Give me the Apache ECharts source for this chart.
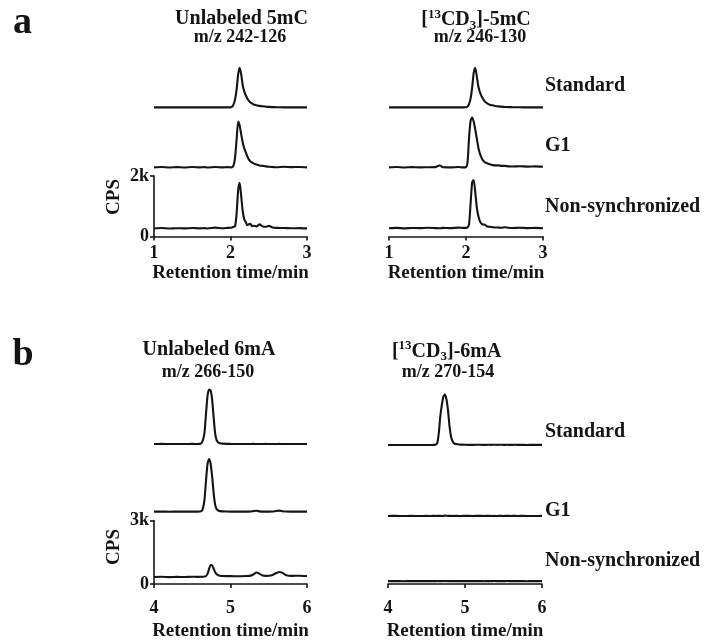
<!DOCTYPE html>
<html>
<head>
<meta charset="utf-8">
<script src="https://cdn.jsdelivr.net/npm/echarts/dist/echarts.min.js"></script>
<style>
  html, body { margin: 0; padding: 0; background: #fff; }
  #chart { width: 713px; height: 644px; }
</style>
</head>
<body>
<div id="chart"></div>
<script>
var FONT = '"Liberation Serif", "Times New Roman", serif';
var INK = '#141414';

// retention times (min) of the sampled points
var timeA = [1.00, 1.10, 1.20, 1.30, 1.40, 1.50, 1.60, 1.66, 1.70, 1.80, 1.90, 1.96,
  2.00, 2.02, 2.04, 2.06, 2.08, 2.10, 2.12, 2.14, 2.16, 2.18, 2.20, 2.22, 2.24, 2.26, 2.28, 2.30,
  2.34, 2.38, 2.42, 2.46, 2.50, 2.55, 2.60, 2.70, 2.80, 2.90, 3.00];
var timeB = [4.00, 4.10, 4.20, 4.30, 4.40, 4.50, 4.56, 4.60,
  4.62, 4.64, 4.66, 4.68, 4.70, 4.72, 4.74, 4.76, 4.78, 4.80, 4.82, 4.84, 4.86,
  4.90, 4.95, 5.00, 5.10, 5.20, 5.25, 5.30, 5.34, 5.38, 5.42, 5.46, 5.50,
  5.55, 5.60, 5.64, 5.68, 5.72, 5.80, 5.90, 6.00];

// panel a, CPS
var a5mcStandard = [20, 20, 22, 20, 21, 20, 22, 20, 21, 20, 22, 20,
  22, 38, 120, 285, 615, 1110, 1327, 1110, 745, 548, 416, 317, 235, 185, 152, 119,
  92, 70, 56, 46, 36, 30, 26, 22, 21, 20, 21];
var a5mcG1 = [30, 45, 25, 40, 28, 42, 30, 38, 26, 44, 30, 40,
  32, 35, 95, 360, 955, 1548, 1415, 1120, 855, 657, 525, 393, 294, 228, 195, 162,
  129, 96, 80, 63, 50, 42, 35, 52, 38, 45, 32];
var a5mcNonSync = [265, 280, 262, 275, 268, 282, 270, 278, 265, 292, 275, 285,
  290, 300, 320, 340, 765, 1525, 1775, 1330, 830, 570, 470, 370, 405, 420, 340, 355,
  335, 400, 335, 320, 350, 300, 285, 280, 272, 278, 268];
var aCd3Standard = [22, 20, 21, 20, 22, 20, 21, 20, 22, 20, 21, 22,
  24, 45, 140, 320, 680, 1160, 1330, 1060, 720, 530, 400, 305, 230, 180, 145, 118,
  88, 68, 54, 44, 36, 30, 26, 23, 21, 22, 20];
var aCd3G1 = [30, 42, 28, 38, 30, 35, 40, 95, 35, 30, 42, 30,
  40, 195, 1020, 1580, 1680, 1548, 1284, 987, 690, 492, 360, 261, 211, 178, 162, 145,
  112, 96, 96, 80, 80, 65, 60, 70, 55, 62, 50];
var aCd3NonSync = [275, 285, 270, 282, 276, 288, 278, 272, 284, 276, 292, 285,
  285, 300, 412, 1105, 1800, 1865, 1470, 970, 676, 511, 428, 395, 395, 362, 330, 320,
  310, 300, 295, 290, 305, 288, 282, 290, 278, 285, 275];

// panel b, CPS
var b6maStandard = [30, 32, 30, 31, 30, 32, 30, 35,
  70, 220, 555, 1460, 2315, 2600, 2555, 2125, 1270, 505, 195, 100, 65,
  45, 36, 32, 30, 31, 30, 32, 30, 31, 30, 32, 30,
  31, 30, 32, 30, 31, 30, 30, 31];
var b6maG1 = [35, 38, 34, 36, 35, 37, 36, 45,
  60, 200, 600, 1500, 2300, 2520, 2300, 1700, 900, 350, 150, 90, 60,
  48, 40, 38, 36, 37, 36, 60, 75, 50, 38, 36, 37,
  40, 70, 82, 55, 40, 38, 36, 35];
var b6maNonSync = [330, 340, 325, 338, 330, 345, 335, 340,
  338, 345, 350, 380, 480, 715, 900, 880, 720, 550, 455, 410, 390,
  375, 370, 372, 365, 375, 385, 450, 545, 480, 405, 385, 390,
  430, 520, 570, 525, 430, 385, 392, 375];
var bCd3Standard = [25, 27, 25, 26, 25, 27, 26, 28,
  40, 120, 596, 1405, 1930, 2310, 2405, 2165, 1640, 880, 405, 190, 95,
  58, 40, 32, 30, 35, 28, 34, 30, 36, 29, 35, 30,
  33, 28, 34, 30, 32, 27, 30, 28];
var bCd3G1 = [30, 34, 28, 33, 30, 32, 29, 35,
  31, 33, 36, 32, 30, 34, 45, 40, 32, 36, 30, 34, 31,
  33, 29, 35, 30, 34, 31, 36, 30, 33, 29, 35, 31,
  34, 30, 36, 29, 33, 31, 30, 32];
var bCd3NonSync = [135, 139, 133, 138, 135, 140, 134, 137,
  136, 139, 135, 138, 134, 141, 136, 139, 135, 138, 133, 137, 135,
  138, 134, 139, 135, 137, 133, 138, 135, 140, 134, 137, 135,
  139, 134, 138, 135, 137, 133, 136, 135];

var sampleNames = ['Standard', 'G1', 'Non-synchronized'];

var panels = [
  {
    time: timeA, xMin: 1, xMax: 3, yMax: 2000, h: 60.5,
    lefts: [154, 389], widths: [153, 154],
    zero: [[108, 168.3, 236.5], [108, 168.3, 236.5]],
    data: [[a5mcStandard, a5mcG1, a5mcNonSync], [aCd3Standard, aCd3G1, aCd3NonSync]],
    labelMargin: 8, nameGap: 24
  },
  {
    time: timeB, xMin: 4, xMax: 6, yMax: 3000, h: 63.5,
    lefts: [154, 388], widths: [153, 154],
    zero: [[444.6, 512.4, 584], [445.5, 516.6, 584]],
    data: [[b6maStandard, b6maG1, b6maNonSync], [bCd3Standard, bCd3G1, bCd3NonSync]],
    labelMargin: 15, nameGap: 38
  }
];

var grids = [], xAxes = [], yAxes = [], series = [];
var boldText = function (size) {
  return { color: INK, fontSize: size, fontWeight: 'bold', fontFamily: FONT };
};

panels.forEach(function (p) {
  for (var c = 0; c < 2; c++) {
    for (var r = 0; r < 3; r++) {
      var idx = grids.length;
      var bottomRow = r === 2;
      grids.push({
        left: p.lefts[c], width: p.widths[c],
        top: p.zero[c][r] - p.h, height: p.h,
        containLabel: false, outerBoundsMode: 'none'
      });
      xAxes.push({
        type: 'value', gridIndex: idx, min: p.xMin, max: p.xMax, interval: 1,
        show: bottomRow,
        axisLine: { show: true, onZero: false, lineStyle: { color: INK, width: 1.6 } },
        axisTick: { show: true, inside: false, length: 4, lineStyle: { color: INK, width: 1.6 } },
        minorTick: { show: false },
        axisLabel: Object.assign({ show: true, margin: p.labelMargin }, boldText(18)),
        splitLine: { show: false },
        name: bottomRow ? 'Retention time/min' : '',
        nameLocation: 'middle', nameGap: p.nameGap,
        nameTextStyle: boldText(19)
      });
      yAxes.push({
        type: 'value', gridIndex: idx, min: 0, max: p.yMax, interval: p.yMax,
        show: bottomRow && c === 0,
        axisLine: { show: true, onZero: false, lineStyle: { color: INK, width: 1.6 } },
        axisTick: { show: true, inside: false, length: 4, lineStyle: { color: INK, width: 1.6 } },
        axisLabel: Object.assign({
          show: true, margin: 5,
          formatter: function (v) { return v === 0 ? '0' : (v / 1000) + 'k'; }
        }, boldText(18)),
        splitLine: { show: false }
      });
      var vals = p.data[c][r];
      series.push({
        type: 'line', name: sampleNames[r],
        xAxisIndex: idx, yAxisIndex: idx,
        data: p.time.map(function (t, i) { return [t, vals[i]]; }),
        showSymbol: false, symbol: 'none', smooth: 0.2,
        clip: false, silent: true,
        lineStyle: { color: INK, width: 2.1 }
      });
    }
  }
});

function label(text, x, y, size, align, extra) {
  return Object.assign({
    type: 'text', x: x, y: y, silent: true,
    style: {
      text: text, fill: INK, fontSize: size, fontWeight: 'bold', fontFamily: FONT,
      textAlign: align || 'center', textVerticalAlign: 'middle'
    }
  }, extra || {});
}

var richIso = {
  sup: { fontSize: 13, fontWeight: 'bold', fontFamily: FONT, fill: INK, verticalAlign: 'top' },
  sub: { fontSize: 13, fontWeight: 'bold', fontFamily: FONT, fill: INK, verticalAlign: 'bottom' }
};
function isoLabel(text, x, y) {
  var g = label(text, x, y, 20, 'center');
  g.style.rich = richIso;
  g.style.lineHeight = 24;
  return g;
}

var graphics = [
  label('a', 22.5, 23.5, 38),
  label('b', 23, 355.5, 38),
  label('Unlabeled 5mC', 241.5, 18.4, 20),
  label('m/z 242-126', 240, 37.7, 18),
  isoLabel('[{sup|13}CD{sub|3}]-5mC', 476, 20),
  label('m/z 246-130', 480, 37.7, 18),
  label('Unlabeled 6mA', 209, 350, 20),
  label('m/z 266-150', 208, 372.4, 18),
  isoLabel('[{sup|13}CD{sub|3}]-6mA', 446.7, 351.4),
  label('m/z 270-154', 448, 372.4, 18),
  label('CPS', 114, 197, 19, 'center', { rotation: Math.PI / 2 }),
  label('CPS', 114, 547, 19, 'center', { rotation: Math.PI / 2 }),
  label(sampleNames[0], 545, 85.7, 20, 'left'),
  label(sampleNames[1], 545, 146, 20, 'left'),
  label(sampleNames[2], 545, 206.7, 20, 'left'),
  label(sampleNames[0], 545, 431.7, 20, 'left'),
  label(sampleNames[1], 545, 511, 20, 'left'),
  label(sampleNames[2], 545, 561, 20, 'left')
];

var chart = echarts.init(document.getElementById('chart'), null, { renderer: 'canvas' });
chart.setOption({
  backgroundColor: '#ffffff',
  animation: false,
  grid: grids,
  xAxis: xAxes,
  yAxis: yAxes,
  series: series,
  graphic: graphics
});
</script>
</body>
</html>
